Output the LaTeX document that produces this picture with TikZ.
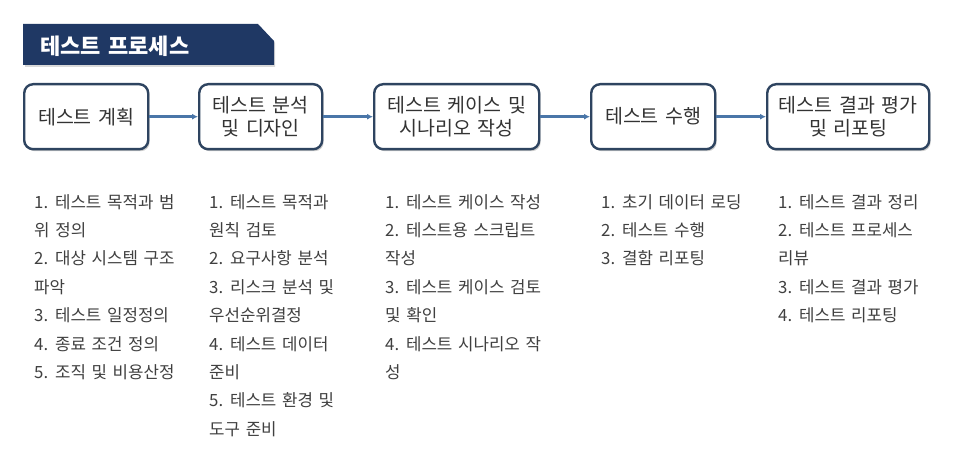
\documentclass[tikz,border=0pt]{standalone}
\usepackage{fontspec}
\setmainfont{Noto Sans CJK KR}
\newfontfamily\kr{Noto Sans CJK KR}
\newfontfamily\krw{Noto Sans CJK KR}[WordSpace=1.5]
\usetikzlibrary{arrows.meta,shadows}
\definecolor{banner}{HTML}{1F3864}
\definecolor{boxline}{HTML}{2E4460}
\definecolor{arrowc}{HTML}{4A76A8}
\definecolor{txt}{HTML}{333333}
\definecolor{lst}{HTML}{404040}
\tikzset{
  stepbox/.style={draw=boxline, line width=2.4pt, rounded corners=9pt, fill=white,
    drop shadow={shadow xshift=1.5pt, shadow yshift=-2pt, fill=black, opacity=0.2},
    text=txt, font={\kr\fontsize{19.5}{23}\selectfont}, align=center, anchor=north west, inner sep=0pt},
  flow/.style={draw=arrowc, line width=2.4pt, -{Latex[length=6pt,width=6pt]}},
  listtxt/.style={anchor=north west, inner sep=0pt, align=left, text=lst,
    font={\krw\fontsize{16.8}{28.4}\selectfont}}
}
\begin{document}
\begin{tikzpicture}[x=1pt,y=-1pt]
\useasboundingbox (0,0) rectangle (954,462);
\fill[white] (0,0) rectangle (954,462);
% banner
\fill[black, opacity=0.15] (25,27) -- (260,27) -- (275,43) -- (275,67) -- (25,67) -- cycle;
\fill[banner] (23,24) -- (258,24) -- (274,41) -- (274,65) -- (23,65) -- cycle;
\node[anchor=west, text=white, font={\kr\bfseries\fontsize{22}{24}\selectfont}, inner sep=0pt] (title) at (40,46) {테스트 프로세스};
% boxes
\node[stepbox, minimum width=124pt, minimum height=65pt] (b1) at (23,83) {테스트 계획};
\node[stepbox, minimum width=123pt, minimum height=65pt] (b2) at (198,83) {테스트 분석\\및 디자인};
\node[stepbox, minimum width=165pt, minimum height=65pt] (b3) at (373,83) {테스트 케이스 및\\시나리오 작성};
\node[stepbox, minimum width=124pt, minimum height=65pt] (b4) at (590,83) {테스트 수행};
\node[stepbox, minimum width=162pt, minimum height=65pt] (b5) at (766,83) {테스트 결과 평가\\및 리포팅};
\draw[flow] (b1.east) -- (b2.west);
\draw[flow] (b2.east) -- (b3.west);
\draw[flow] (b3.east) -- (b4.west);
\draw[flow] (b4.east) -- (b5.west);
% lists
\node[listtxt] (l1) at (34,194) {1. 테스트 목적과 범\\위 정의\\2. 대상 시스템 구조\\파악\\3. 테스트 일정정의\\4. 종료 조건 정의\\5. 조직 및 비용산정};
\node[listtxt] (l2) at (209,194) {1. 테스트 목적과\\원칙 검토\\2. 요구사항 분석\\3. 리스크 분석 및\\우선순위결정\\4. 테스트 데이터\\준비\\5. 테스트 환경 및\\도구 준비};
\node[listtxt] (l3) at (385,194) {1. 테스트 케이스 작성\\2. 테스트용 스크립트\\작성\\3. 테스트 케이스 검토\\및 확인\\4. 테스트 시나리오 작\\성};
\node[listtxt] (l4) at (601,194) {1. 초기 데이터 로딩\\2. 테스트 수행\\3. 결함 리포팅};
\node[listtxt] (l5) at (778,194) {1. 테스트 결과 정리\\2. 테스트 프로세스\\리뷰\\3. 테스트 결과 평가\\4. 테스트 리포팅};
\end{tikzpicture}
\end{document}
